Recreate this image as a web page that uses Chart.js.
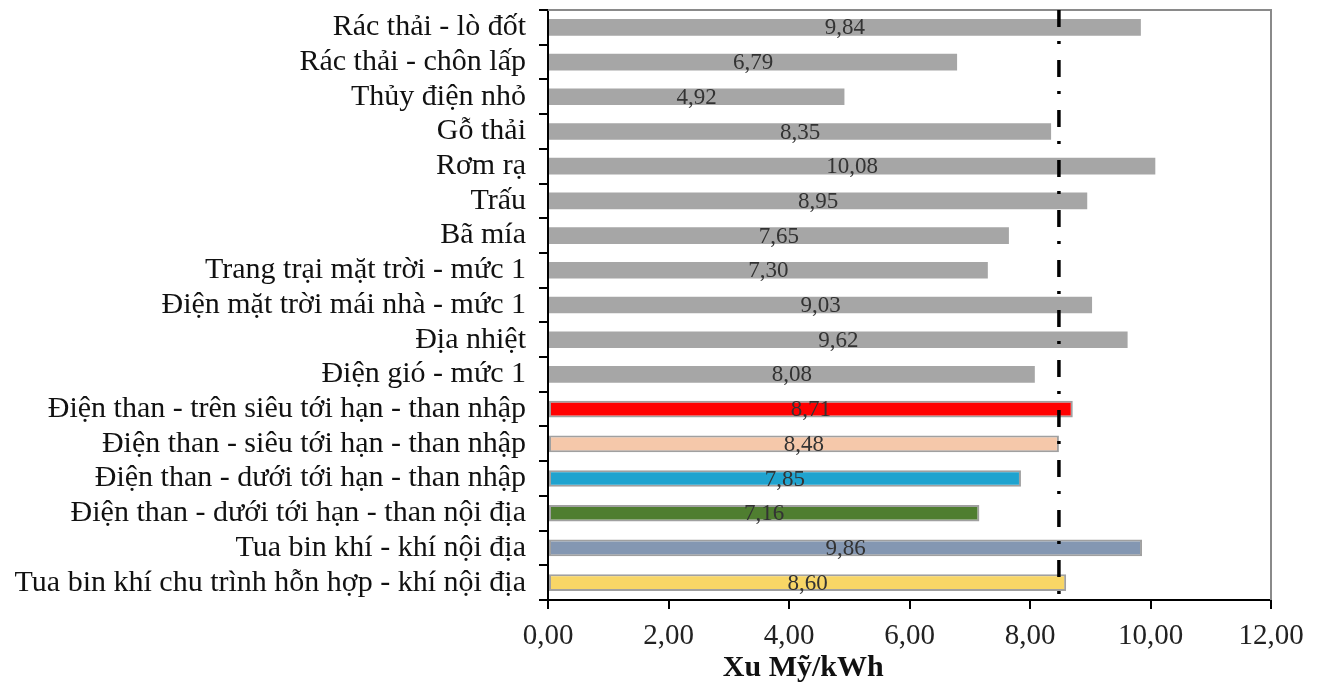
<!DOCTYPE html>
<html>
<head>
<meta charset="utf-8">
<script src="https://cdn.jsdelivr.net/npm/chart.js@4.4.1/dist/chart.umd.min.js"></script>
<style>
  html, body { margin: 0; padding: 0; background: #ffffff; }
  canvas { display: block; }
</style>
</head>
<body>
<canvas id="chart" width="1325" height="685"></canvas>
<script>
const categories = [
  'Rác thải - lò đốt',
  'Rác thải - chôn lấp',
  'Thủy điện nhỏ',
  'Gỗ thải',
  'Rơm rạ',
  'Trấu',
  'Bã mía',
  'Trang trại mặt trời - mức 1',
  'Điện mặt trời mái nhà - mức 1',
  'Địa nhiệt',
  'Điện gió - mức 1',
  'Điện than - trên siêu tới hạn - than nhập',
  'Điện than - siêu tới hạn - than nhập',
  'Điện than - dưới tới hạn - than nhập',
  'Điện than - dưới tới hạn - than nội địa',
  'Tua bin khí - khí nội địa',
  'Tua bin khí chu trình hỗn hợp - khí nội địa'
];
const values = [9.84, 6.79, 4.92, 8.35, 10.08, 8.95, 7.65, 7.30, 9.03, 9.62, 8.08, 8.71, 8.48, 7.85, 7.16, 9.86, 8.60];
const barColors = [
  '#a6a6a6', '#a6a6a6', '#a6a6a6', '#a6a6a6', '#a6a6a6', '#a6a6a6', '#a6a6a6', '#a6a6a6', '#a6a6a6', '#a6a6a6', '#a6a6a6',
  '#ff0000', '#f5c8aa', '#1fa3cf', '#4f7e30', '#8497b2', '#f8d666'
];
const borderWidths = [0, 0, 0, 0, 0, 0, 0, 0, 0, 0, 0, 2, 2, 2, 2, 2, 2];
const xMin = 0;
const xMax = 12;
const xStep = 2;
const referenceValue = 8.48;
const axisTitle = 'Xu Mỹ/kWh';

const fmt = v => Number(v).toFixed(2).replace('.', ',');
const SERIF = "'Liberation Serif', 'Times New Roman', serif";
Chart.defaults.font.family = SERIF;

const framePlugin = {
  id: 'frame',
  beforeDatasetsDraw(chart) {
    const { ctx, chartArea: a } = chart;
    ctx.save();
    ctx.strokeStyle = '#8a8a8a';
    ctx.lineWidth = 2;
    ctx.beginPath();
    ctx.moveTo(a.left, a.top);
    ctx.lineTo(a.right, a.top);
    ctx.lineTo(a.right, a.bottom);
    ctx.stroke();
    ctx.restore();
  }
};

const labelPlugin = {
  id: 'barLabels',
  afterDatasetsDraw(chart) {
    const { ctx } = chart;
    const meta = chart.getDatasetMeta(0);
    ctx.save();
    ctx.font = '23px ' + SERIF;
    ctx.fillStyle = '#333333';
    ctx.textAlign = 'center';
    ctx.textBaseline = 'middle';
    meta.data.forEach((el, i) => {
      const cx = (el.x + el.base) / 2;
      ctx.fillText(fmt(values[i]), cx, el.y + 1);
    });
    ctx.restore();
  }
};

const refLinePlugin = {
  id: 'refLine',
  afterDatasetsDraw(chart) {
    const { ctx, chartArea: a, scales } = chart;
    const x = scales.x.getPixelForValue(referenceValue);
    ctx.save();
    ctx.strokeStyle = '#000000';
    ctx.lineWidth = 3.5;
    ctx.setLineDash([17, 14, 3, 16]);
    ctx.beginPath();
    ctx.moveTo(x, a.top);
    ctx.lineTo(x, a.bottom);
    ctx.stroke();
    ctx.restore();
  }
};

const axisTitlePlugin = {
  id: 'axisTitle',
  afterDraw(chart) {
    const { ctx, chartArea: a } = chart;
    ctx.save();
    ctx.font = 'bold 30px ' + SERIF;
    ctx.fillStyle = '#111111';
    ctx.textAlign = 'center';
    ctx.textBaseline = 'middle';
    ctx.fillText(axisTitle, a.left + (a.right - a.left) * 0.353, 668);
    ctx.restore();
  }
};

new Chart(document.getElementById('chart'), {
  type: 'bar',
  data: {
    labels: categories,
    datasets: [{
      data: values,
      backgroundColor: barColors,
      borderColor: '#a0a0a0',
      borderWidth: borderWidths,
      borderSkipped: false,
      barPercentage: 0.48,
      categoryPercentage: 1
    }]
  },
  options: {
    indexAxis: 'y',
    responsive: false,
    devicePixelRatio: 1,
    animation: false,
    layout: { padding: { top: 10, right: 54, left: 0, bottom: 0 } },
    plugins: {
      legend: { display: false },
      tooltip: { enabled: false }
    },
    scales: {
      x: {
        min: xMin,
        max: xMax,
        ticks: {
          stepSize: xStep,
          callback: v => fmt(v),
          font: { size: 29 },
          color: '#222222',
          padding: 10,
          maxRotation: 0
        },
        grid: { drawOnChartArea: false, drawTicks: true, tickLength: 9, color: '#000000', lineWidth: 2 },
        border: { color: '#000000', width: 2 },
        afterFit: s => { s.height = 85; s.paddingLeft = 0; s.paddingRight = 0; }
      },
      y: {
        ticks: {
          font: { size: 30 },
          color: '#111111',
          padding: 13,
          autoSkip: false
        },
        grid: { offset: true, drawOnChartArea: false, drawTicks: true, tickLength: 9, color: '#000000', lineWidth: 2 },
        border: { color: '#000000', width: 2 },
        afterFit: s => { s.width = 548; s.paddingTop = 0; s.paddingBottom = 0; }
      }
    }
  },
  plugins: [framePlugin, labelPlugin, refLinePlugin, axisTitlePlugin]
});
</script>
</body>
</html>
